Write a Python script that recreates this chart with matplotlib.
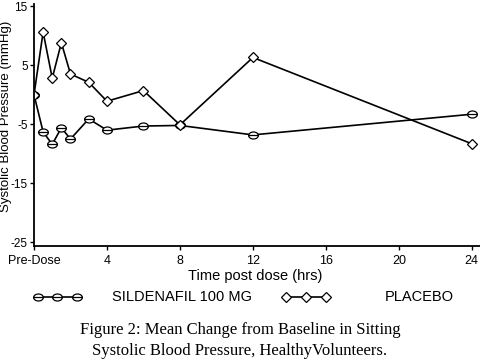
import numpy as np
import matplotlib
matplotlib.use("Agg")
import matplotlib.pyplot as plt
from matplotlib.path import Path
from matplotlib.lines import Line2D

plt.rcParams['font.family'] = ['Liberation Sans', 'DejaVu Sans']
plt.rcParams['axes.unicode_minus'] = False

### DATA

# hours post dose (0 = pre-dose)
hours = [0, 0.5, 1, 1.5, 2, 3, 4, 6, 8, 12, 24]

# mean change from baseline, sitting systolic BP (mmHg)
sildenafil = [0, -6.3, -8.4, -5.6, -7.5, -4.1, -6.0, -5.3, -5.2, -6.8, -3.3]
placebo = [0, 10.6, 2.8, 8.8, 3.5, 2.1, -1.1, 0.7, -5.1, 6.3, -8.3]

x_ticks = [0, 4, 8, 12, 16, 20, 24]
x_ticklabels = ['Pre-Dose', '4', '8', '12', '16', '20', '24']
y_ticks = [-25, -15, -5, 5, 15]

### MARKERS

# flattened circle with a bar through it
circ = Path.unit_circle()
ell = Path(circ.vertices * [1.0, 0.72], circ.codes)
bar = Path([[-1.0, 0.0], [1.0, 0.0]], [Path.MOVETO, Path.LINETO])
oval_marker = Path.make_compound_path(ell, bar)

line_style = dict(color='black', linewidth=1.2, markerfacecolor='white',
                  markeredgecolor='black', markeredgewidth=0.9)

### PLOT

fig = plt.figure(figsize=(4.8, 3.63), dpi=100)
ax = fig.add_axes([34/480, 1 - 246/363, 446/480, 242/363])

ax.plot(hours, sildenafil, marker=oval_marker, markersize=7, **line_style)
ax.plot(hours, placebo, marker='D', markersize=5, **line_style)

ax.set_xlim(0, 24.45)
ax.set_ylim(-25.6, 15.35)
ax.set_xticks(x_ticks)
ax.set_xticklabels(x_ticklabels)
ax.set_yticks(y_ticks)
ax.tick_params(axis='both', direction='out', length=3, width=1, labelsize=9, pad=1.5)
ax.tick_params(axis='y', labelsize=8.5)
ax.tick_params(axis='x', pad=3.5)

for s in ['top', 'right']:
    ax.spines[s].set_visible(False)
for s in ['left', 'bottom']:
    ax.spines[s].set_linewidth(1.3)

ax.set_ylabel('Systolic Blood Pressure (mmHg)', fontsize=9.5)
ax.yaxis.set_label_coords(-0.05, 0.535)
ax.set_xlabel('Time post dose (hrs)', fontsize=10.5)
ax.xaxis.set_label_coords(0.497, -0.095)

# legend row drawn by hand (icons with three markers each)
W, H = 480, 363
leg_y = 1 - 297/H
fig.add_artist(Line2D(np.array([38, 57, 77])/W, [leg_y]*3, transform=fig.transFigure,
                      marker=oval_marker, markersize=7, **line_style))
fig.text(112/W, leg_y, 'SILDENAFIL 100 MG', fontsize=10.5, va='center', ha='left')
fig.add_artist(Line2D(np.array([286, 306, 326])/W, [leg_y]*3, transform=fig.transFigure,
                      marker='D', markersize=5, **line_style))
fig.text(385/W, leg_y, 'PLACEBO', fontsize=10.5, va='center', ha='left')

# caption
fig.text(0.5, 1 - 330/H, 'Figure 2: Mean Change from Baseline in Sitting',
         family=['Liberation Serif', 'DejaVu Serif'], fontsize=12, ha='center', va='center')
fig.text(0.5, 1 - 351/H, 'Systolic Blood Pressure, HealthyVolunteers.',
         family=['Liberation Serif', 'DejaVu Serif'], fontsize=12, ha='center', va='center')

fig.savefig('out.png', dpi=100)
